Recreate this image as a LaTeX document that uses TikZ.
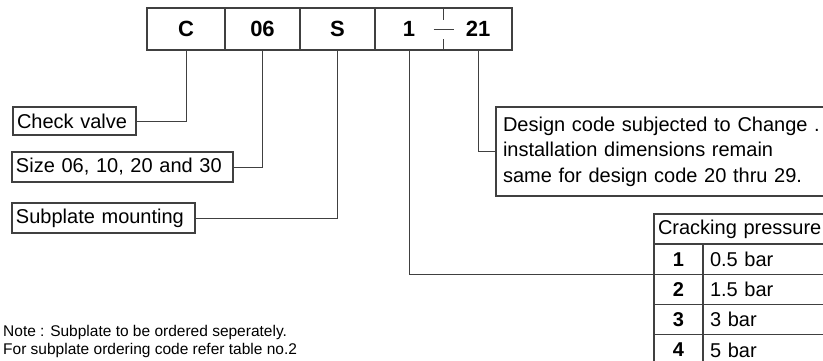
\documentclass[tikz,border=0pt]{standalone}
\usepackage{fontspec}
\setmainfont{Liberation Sans}
\usetikzlibrary{positioning}
\definecolor{rulegray}{gray}{0.25}
\newcommand{\codefont}{\fontsize{22}{26}\selectfont\bfseries}
\newcommand{\labelfont}{\fontsize{20}{25.5}\selectfont}

\begin{document}
\begin{tikzpicture}[x=1pt,y=-1pt,
    cell/.style={draw=rulegray, line width=1.1pt, inner sep=0pt, outer sep=0pt,
                 minimum height=42, font=\codefont},
    tag/.style={draw=rulegray, line width=1.1pt, anchor=north west, outer sep=0pt,
                inner xsep=4pt, inner ysep=0pt, align=left, font=\labelfont},
    tab/.style={draw=rulegray, line width=1.1pt, anchor=north west, outer sep=0pt,
                inner ysep=0pt, minimum height=30.3, font=\labelfont},
    lead/.style={draw=rulegray, line width=1pt}]
        \useasboundingbox (0,0) rectangle (823,360);
        \clip (0,0) rectangle (823,360);

        % ordering code
        \node[cell, minimum width=78] (cc) at (186,29) {C};
        \node[cell, minimum width=75] (c06) at (262.5,29) {06};
        \node[cell, minimum width=75] (cs) at (337.5,29) {S};
        \node[cell, minimum width=137] (cpress) at (443.5,29) {};
        \node[font=\codefont, inner sep=0pt] (one) at (409,29) {1};
        \node[font=\codefont, inner sep=0pt] (twentyone) at (478,29) {21};
        \draw[lead] (cpress.north) -- ++(0,12) (cpress.south) -- ++(0,-11)
              ([xshift=-10]cpress.center) -- ([xshift=10]cpress.center);

        % explanations
        \node[tag, minimum height=28, text width=115] (check) at (13,107) {Check valve};
        \node[tag, minimum height=30, text width=213] (size) at (12,152) {Size 06, 10, 20 and 30};
        \node[tag, minimum height=30, text width=175] (subplate) at (12,203) {Subplate mounting};
        \node[tag, minimum height=89, text width=340, inner xsep=7pt] (design) at (496,107)
              {Design code subjected to Change .\\installation dimensions remain\\same for design code 20 thru 29.};

        % cracking pressure table
        \node[tab, minimum width=206, text width=198, inner xsep=4pt, align=left] (crack) at (654,214)
              {Cracking pressure};
        \foreach \i/\p in {1/0.5 bar,2/1.5 bar,3/3 bar,4/5 bar}
                 {
                   \node[tab, minimum width=49, font=\labelfont\bfseries] (n\i) at (654,{244+30.3*(\i-1)}) {\i};
                   \node[tab, minimum width=157, text width=143, inner xsep=7pt, align=left] (v\i) at (n\i.north east) {\p};
                 }

        \draw[lead] (cc.south) |- (check.east);
        \draw[lead] (c06.south) |- (size.east);
        \draw[lead] (cs.south) |- (subplate.east);
        \draw[lead] (cpress.south -| one) |- (n1.south west);
        \draw[lead] (cpress.south -| twentyone) |- (design.west);

        \node[anchor=north west, inner sep=0pt, align=left, font=\fontsize{15.5}{18.3}\selectfont] (note) at (3,325)
              {Note : Subplate to be ordered seperately.\\For subplate ordering code refer table no.2};
      \end{tikzpicture}
\end{document}
